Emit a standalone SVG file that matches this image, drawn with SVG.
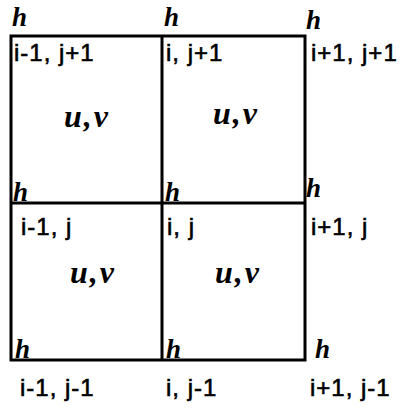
<svg xmlns="http://www.w3.org/2000/svg" width="402" height="409" viewBox="0 0 402 409">
<style>
.ln{stroke:#000;stroke-width:3;fill:none}
.h{font-family:"Liberation Serif",serif;font-style:italic;font-weight:bold;font-size:27px;fill:#000}
.lb{font-family:"Liberation Sans",sans-serif;font-size:24px;letter-spacing:1px;fill:#000;stroke:#000;stroke-width:0.6}
.uv{font-family:"Liberation Serif",serif;font-style:italic;font-weight:bold;font-size:32px;letter-spacing:2px;fill:#000}
</style>
<rect width="402" height="409" fill="#fff"/>
<g id="connectors">
<rect class="ln" x="11" y="36" width="294" height="324"/>
<line class="ln" x1="162" y1="36" x2="162" y2="360"/>
<line class="ln" x1="11" y1="203" x2="305" y2="203"/>
</g>
<g id="n-top-left"><text class="h" x="12" y="26">h</text><text class="lb" x="14" y="61">i-1, j+1</text></g>
<g id="n-top-mid"><text class="h" x="164" y="26">h</text><text class="lb" x="166" y="61">i, j+1</text></g>
<g id="n-top-right"><text class="h" x="306" y="29">h</text><text class="lb" x="311" y="61">i+1, j+1</text></g>
<g id="n-mid-left"><text class="h" x="13" y="201">h</text><text class="lb" x="21" y="235">i-1, j</text></g>
<g id="n-mid-mid"><text class="h" x="165" y="201">h</text><text class="lb" x="167" y="235">i, j</text></g>
<g id="n-mid-right"><text class="h" x="306" y="197">h</text><text class="lb" x="311" y="235">i+1, j</text></g>
<g id="n-bot-left"><text class="h" x="15" y="358">h</text><text class="lb" x="20" y="396">i-1, j-1</text></g>
<g id="n-bot-mid"><text class="h" x="166" y="358">h</text><text class="lb" x="166" y="396">i, j-1</text></g>
<g id="n-bot-right"><text class="h" x="315" y="358">h</text><text class="lb" x="310" y="396">i+1, j-1</text></g>
<g id="cell-1"><text class="uv" x="64" y="127">u,v</text></g>
<g id="cell-2"><text class="uv" x="213" y="124">u,v</text></g>
<g id="cell-3"><text class="uv" x="70" y="283">u,v</text></g>
<g id="cell-4"><text class="uv" x="215" y="283">u,v</text></g>
</svg>
